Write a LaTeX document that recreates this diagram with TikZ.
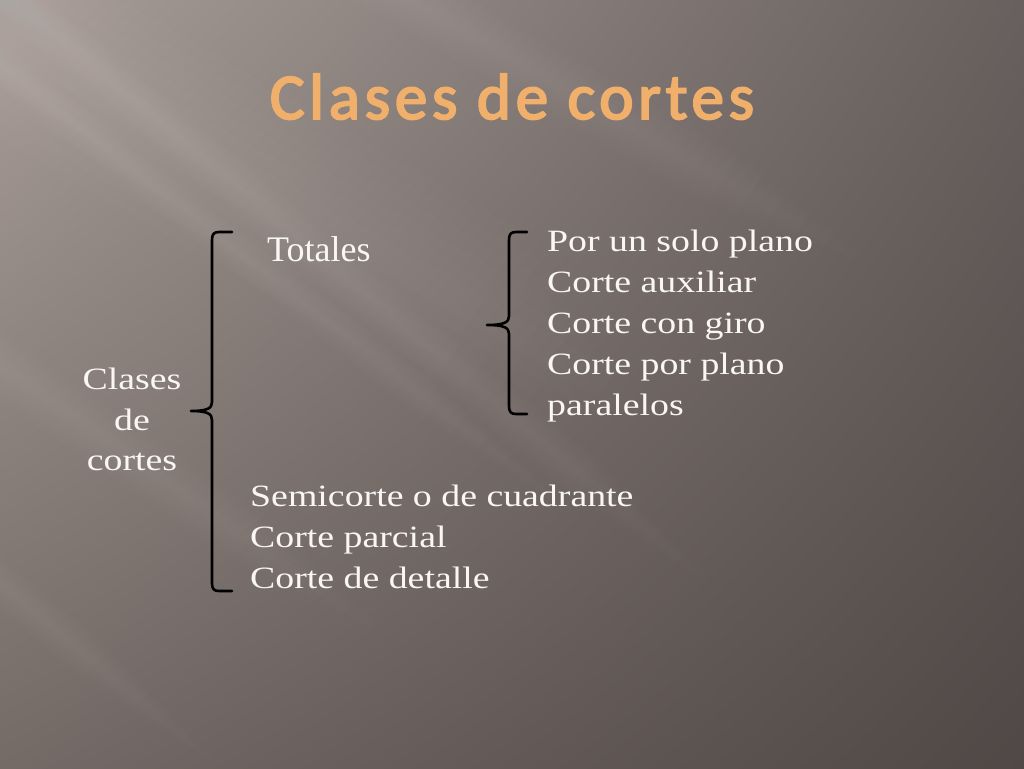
\documentclass[tikz,border=0pt]{standalone}
\usepackage{fontspec}
\setmainfont[FakeStretch=1.22]{Liberation Serif}
\newfontfamily\totfont{Liberation Serif}
\newfontfamily\titlefont[LetterSpace=7.3,FakeBold=3]{Carlito}
\usetikzlibrary{positioning,shadings}

\definecolor{bgul}{RGB}{168,157,152}
\definecolor{bgur}{RGB}{104,96,94}
\definecolor{bgll}{RGB}{116,106,102}
\definecolor{bglr}{RGB}{80,72,70}
\definecolor{gold}{RGB}{240,176,108}
\definecolor{chalk}{RGB}{250,246,244}

\begin{document}
\begin{tikzpicture}[x=1pt,y=-1pt,
  every node/.style={inner sep=0pt, text=chalk},
  title/.style={anchor=base, font=\titlefont\fontsize{65}{70}\selectfont},
  item/.style={anchor=base west, font=\fontsize{31}{41}\selectfont},
  brace/.style={black, line width=2.6pt, line cap=round, line join=round},
  streak/.style={white, fill opacity=0.013}]
\useasboundingbox (0,0) rectangle (1024,768);
% background
\begin{scope}
\clip (0,0) rectangle (1024,768);
\shade[upper left=bgul, upper right=bgur, lower left=bgll, lower right=bglr] (0,0) rectangle (1024,768);
\foreach \cx/\cy/\w/\a/\l in {200/150/90/-30/500, 480/390/22/-40/320, 150/470/28/-35/300, 80/650/20/-40/200, 620/120/30/-30/300, 300/300/18/-38/350}
  \foreach \k in {1,...,6}
    \fill[streak, shift={(\cx,\cy)}, rotate=\a] (-1500,-\k*\w/6) rectangle (\l-\k*30,\k*\w/6);
\end{scope}

% title
\node[title, text=gold] (title) at (512,119) {Clases de cortes};

% root
\node[item, anchor=base] (clases) at (132,389) {Clases};
\node[item, anchor=base] (de) at (132,430) {de};
\node[item, anchor=base] (cortes) at (132,470) {cortes};

% first level
\node[item, font=\totfont\fontsize{36}{41}\selectfont] (totales) at (267,261) {Totales};
\node[item] (s1) at (250,506) {Semicorte o de cuadrante};
\node[item] (s2) at (250,547) {Corte parcial};
\node[item] (s3) at (250,588) {Corte de detalle};

% second level
\node[item] (p1) at (547,251) {Por un solo plano};
\node[item] (p2) at (547,292) {Corte auxiliar};
\node[item] (p3) at (547,333) {Corte con giro};
\node[item] (p4) at (547,374) {Corte por plano};
\node[item] (p5) at (547,415) {paralelos};

% braces
\coordinate (lbtop) at (232,232);
\coordinate (lbtip) at (191,411);
\coordinate (lbbot) at (232,591);
\draw[brace] (lbtop) -- (219,232) .. controls (214,232) and (212,234) .. (212,240) -- (212,402)
  .. controls (212,408) and (208,411) .. (lbtip)
  .. controls (208,411) and (212,414) .. (212,420) -- (212,583)
  .. controls (212,589) and (214,591) .. (219,591) -- (lbbot);
\coordinate (rbtop) at (527,232);
\coordinate (rbtip) at (487,325);
\coordinate (rbbot) at (527,414);
\draw[brace] (rbtop) -- (516,232) .. controls (511,232) and (509,234) .. (509,240) -- (509,316)
  .. controls (509,322) and (505,325) .. (rbtip)
  .. controls (505,325) and (509,328) .. (509,334) -- (509,406)
  .. controls (509,412) and (511,414) .. (516,414) -- (rbbot);
\end{tikzpicture}
\end{document}
